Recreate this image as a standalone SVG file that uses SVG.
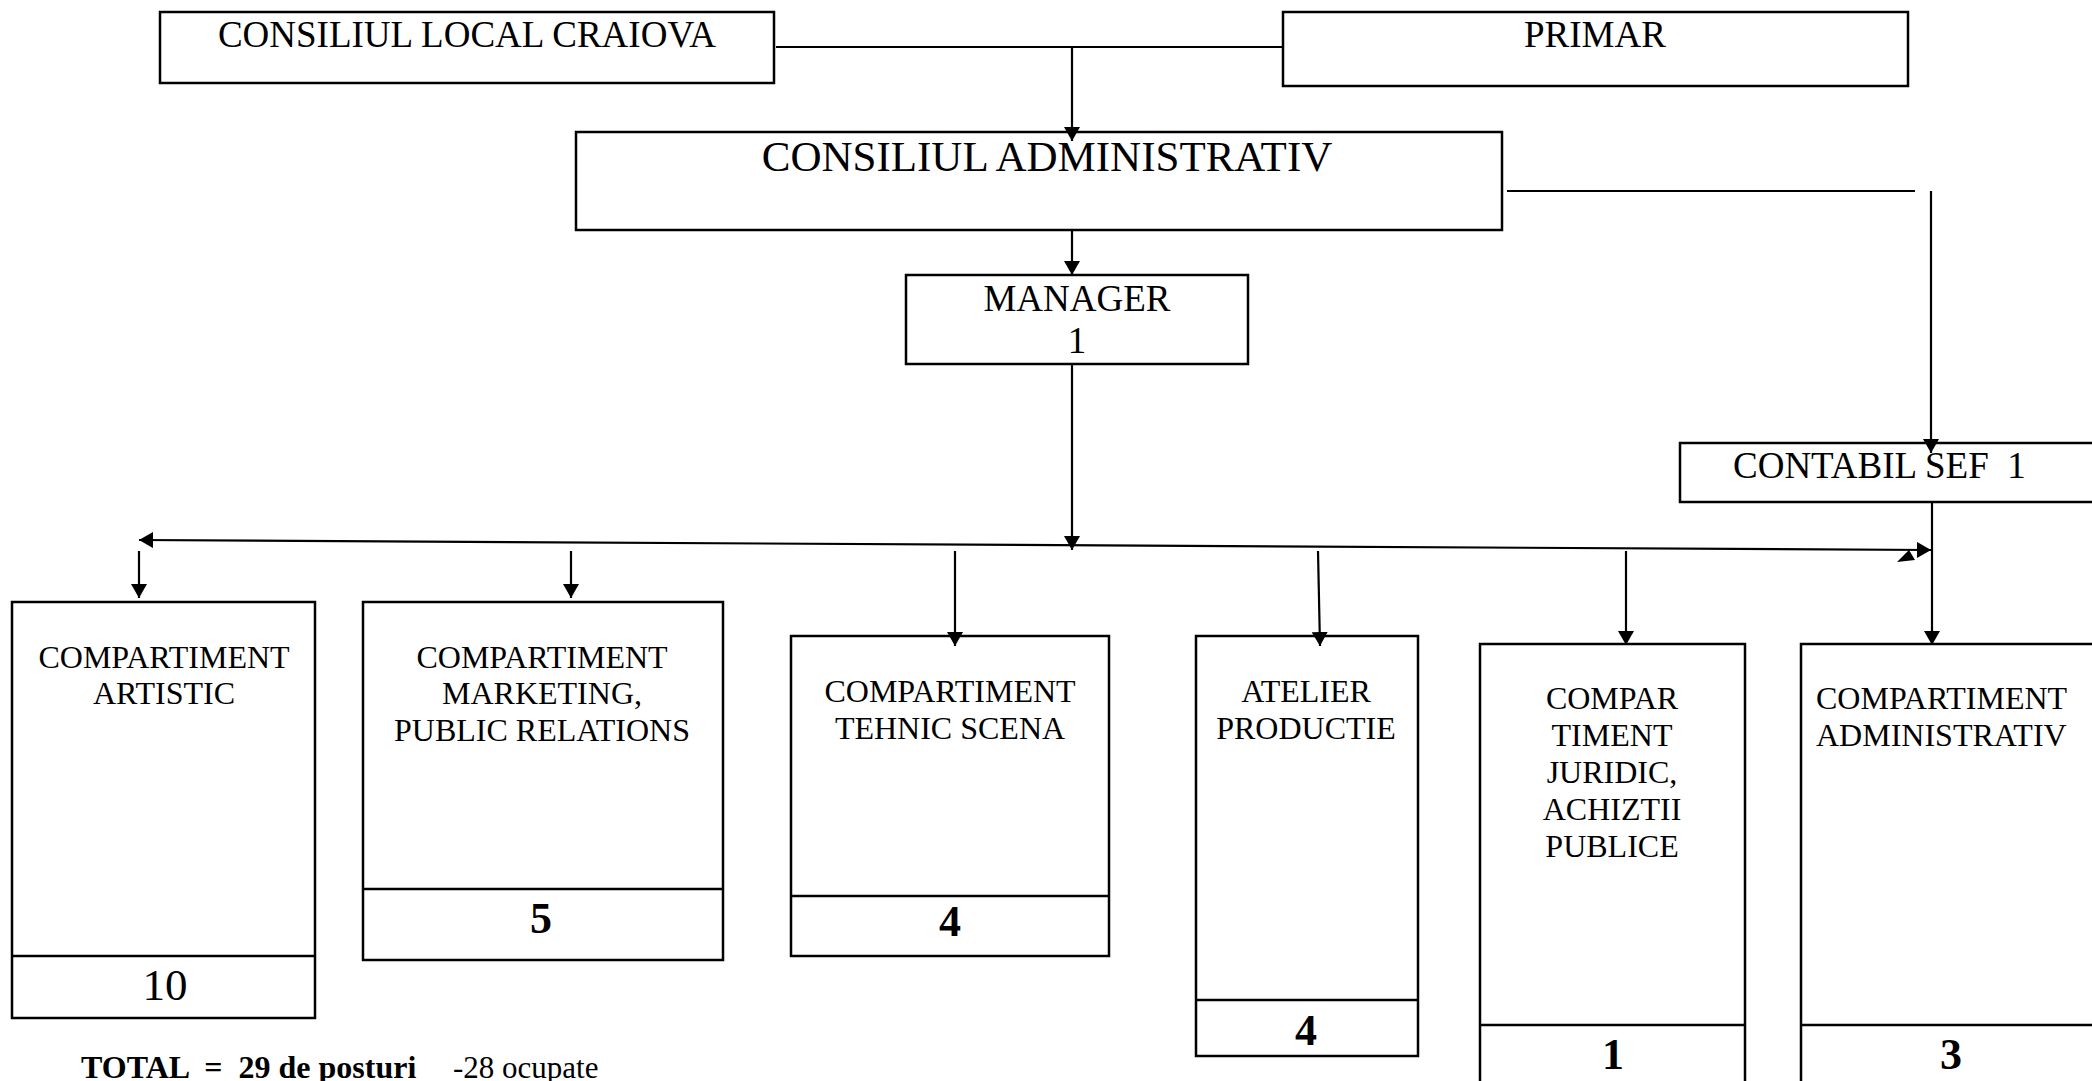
<svg xmlns="http://www.w3.org/2000/svg" width="2092" height="1081" viewBox="0 0 2092 1081">
  <style>
    .box { fill: #ffffff; stroke: #000000; stroke-width: 2.5; }
    .div { stroke: #000000; stroke-width: 2.5; }
    .ln { fill: none; stroke: #000000; stroke-width: 2.2; }
    .t37 { font-family: "Liberation Serif", "Times New Roman", serif; font-size: 37px; fill: #000; }
    .t42 { font-family: "Liberation Serif", "Times New Roman", serif; font-size: 43px; fill: #000; }
    .t32 { font-family: "Liberation Serif", "Times New Roman", serif; font-size: 32px; fill: #000; }
    .num { font-family: "Liberation Serif", "Times New Roman", serif; font-size: 44px; font-weight: bold; fill: #000; }
    .num45 { font-family: "Liberation Serif", "Times New Roman", serif; font-size: 45px; fill: #000; }
    .mid { text-anchor: middle; }
  </style>
  <defs>
    <marker id="arr" viewBox="0 0 14 16" refX="14" refY="8" markerWidth="14" markerHeight="16" markerUnits="userSpaceOnUse" orient="auto-start-reverse">
      <path d="M0,0 L14,8 L0,16 z" fill="#000"/>
    </marker>
  </defs>
  <rect width="2092" height="1081" fill="#ffffff"/>

  <g id="consiliul-local">
    <rect class="box" x="160" y="12" width="614" height="71"/>
    <text class="t37 mid" x="467" y="47">CONSILIUL LOCAL CRAIOVA</text>
  </g>
  <g id="primar">
    <rect class="box" x="1283" y="12" width="625" height="74"/>
    <text class="t37 mid" x="1595" y="47">PRIMAR</text>
  </g>
  <g id="consiliul-administrativ">
    <rect class="box" x="576" y="132" width="926" height="98"/>
    <text class="t42 mid" x="1047" y="171">CONSILIUL ADMINISTRATIV</text>
  </g>
  <g id="manager">
    <rect class="box" x="906" y="275" width="342" height="89"/>
    <text class="t37 mid" x="1077" y="311">MANAGER</text>
    <text class="t37 mid" x="1077" y="353">1</text>
  </g>
  <g id="contabil-sef">
    <rect class="box" x="1680" y="443" width="430" height="59"/>
    <text class="t37" x="1733" y="478" xml:space="preserve">CONTABIL SEF  1</text>
  </g>

  <g id="comp-artistic">
    <rect class="box" x="12" y="602" width="303" height="416"/>
    <line class="div" x1="12" y1="956" x2="315" y2="956"/>
    <text class="t32 mid" x="164" y="668">COMPARTIMENT</text>
    <text class="t32 mid" x="164" y="704">ARTISTIC</text>
    <text class="num45 mid" x="165" y="1000">10</text>
  </g>
  <g id="comp-marketing">
    <rect class="box" x="363" y="602" width="360" height="358"/>
    <line class="div" x1="363" y1="889" x2="723" y2="889"/>
    <text class="t32 mid" x="542" y="668">COMPARTIMENT</text>
    <text class="t32 mid" x="542" y="704">MARKETING,</text>
    <text class="t32 mid" x="542" y="741">PUBLIC RELATIONS</text>
    <text class="num mid" x="541" y="933">5</text>
  </g>
  <g id="comp-tehnic">
    <rect class="box" x="791" y="636" width="318" height="320"/>
    <line class="div" x1="791" y1="896" x2="1109" y2="896"/>
    <text class="t32 mid" x="950" y="702">COMPARTIMENT</text>
    <text class="t32 mid" x="950" y="739">TEHNIC SCENA</text>
    <text class="num mid" x="950" y="936">4</text>
  </g>
  <g id="atelier-productie">
    <rect class="box" x="1196" y="636" width="222" height="420"/>
    <line class="div" x1="1196" y1="1000" x2="1418" y2="1000"/>
    <text class="t32 mid" x="1306" y="702">ATELIER</text>
    <text class="t32 mid" x="1306" y="739">PRODUCTIE</text>
    <text class="num mid" x="1306" y="1045">4</text>
  </g>
  <g id="comp-juridic">
    <rect class="box" x="1480" y="644" width="265" height="460"/>
    <line class="div" x1="1480" y1="1025" x2="1745" y2="1025"/>
    <text class="t32 mid" x="1612" y="709">COMPAR</text>
    <text class="t32 mid" x="1612" y="746">TIMENT</text>
    <text class="t32 mid" x="1612" y="783">JURIDIC,</text>
    <text class="t32 mid" x="1612" y="820">ACHIZTII</text>
    <text class="t32 mid" x="1612" y="857">PUBLICE</text>
    <text class="num mid" x="1613" y="1069">1</text>
  </g>
  <g id="comp-administrativ">
    <rect class="box" x="1801" y="644" width="320" height="460"/>
    <line class="div" x1="1801" y1="1025" x2="2121" y2="1025"/>
    <text class="t32" x="1816" y="709">COMPARTIMENT</text>
    <text class="t32" x="1816" y="746">ADMINISTRATIV</text>
    <text class="num mid" x="1951" y="1069">3</text>
  </g>

  <g id="connectors">
    <line class="ln" x1="776" y1="47" x2="1283" y2="47"/>
    <line class="ln" x1="1072" y1="47" x2="1072" y2="141" marker-end="url(#arr)"/>
    <line class="ln" x1="1072" y1="230" x2="1072" y2="275" marker-end="url(#arr)"/>
    <line class="ln" x1="1507" y1="191" x2="1915" y2="191"/>
    <line class="ln" x1="1931" y1="191" x2="1931" y2="453" marker-end="url(#arr)"/>
    <line class="ln" x1="1072" y1="364" x2="1072" y2="550" marker-end="url(#arr)"/>
    <line class="ln" x1="139" y1="540" x2="1931" y2="550" marker-start="url(#arr)" marker-end="url(#arr)"/>
    <polygon points="1897,562 1915,560 1909,550" fill="#000"/>
    <line class="ln" x1="139" y1="551" x2="139" y2="598" marker-end="url(#arr)"/>
    <line class="ln" x1="571" y1="551" x2="571" y2="598" marker-end="url(#arr)"/>
    <line class="ln" x1="955" y1="551" x2="955" y2="646" marker-end="url(#arr)"/>
    <line class="ln" x1="1318" y1="551" x2="1320" y2="646" marker-end="url(#arr)"/>
    <line class="ln" x1="1626" y1="551" x2="1626" y2="645" marker-end="url(#arr)"/>
    <line class="ln" x1="1932" y1="502" x2="1932" y2="645" marker-end="url(#arr)"/>
  </g>

  <g id="total">
    <text x="81" y="1078" xml:space="preserve" style="font-family: 'Liberation Serif', 'Times New Roman', serif; font-size: 32px; font-weight: bold;">TOTAL  =  29 de posturi</text>
    <text x="453" y="1078" style="font-family: 'Liberation Serif', 'Times New Roman', serif; font-size: 31px;">-28 ocupate</text>
  </g>
</svg>
